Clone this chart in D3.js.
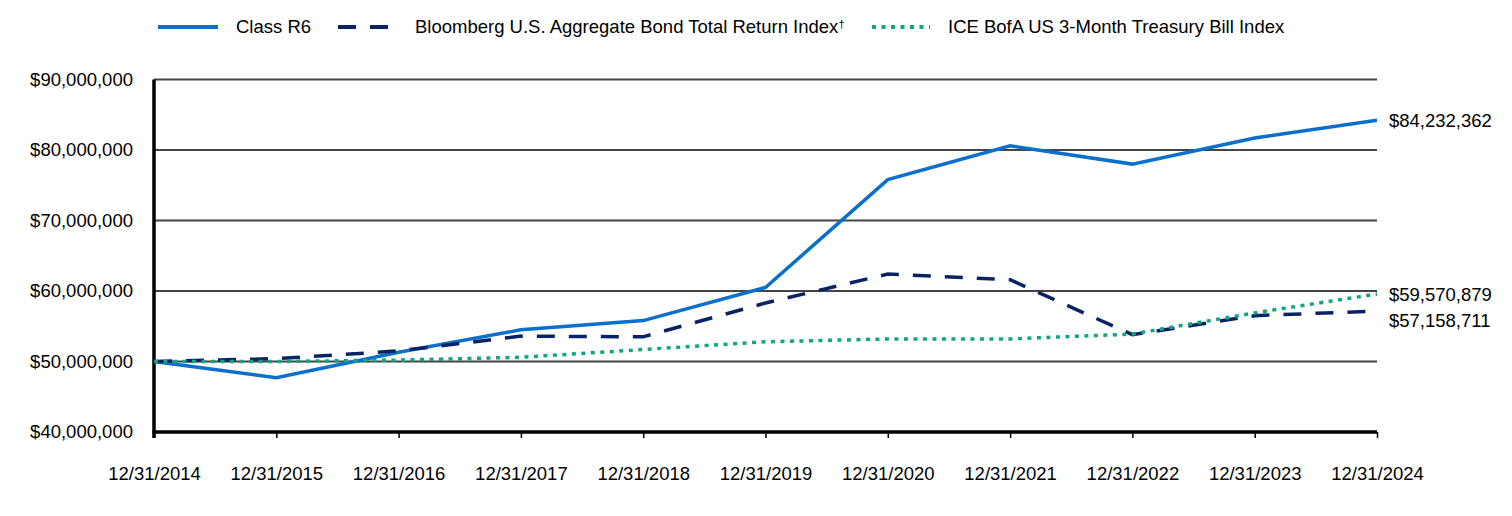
<!DOCTYPE html>
<html>
<head>
<meta charset="utf-8">
<script src="https://cdn.jsdelivr.net/npm/d3@7"></script>
<style>
  body { margin: 0; background: #fff; }
  text { font-family: "Liberation Sans", Arial, sans-serif; fill: #000; }
</style>
</head>
<body>
<div id="chart"></div>
<script>
// chart data
var years = ["12/31/2014","12/31/2015","12/31/2016","12/31/2017","12/31/2018","12/31/2019","12/31/2020","12/31/2021","12/31/2022","12/31/2023","12/31/2024"];
var classR6 = [50000000, 47700000, 51300000, 54500000, 55800000, 60500000, 75800000, 80600000, 78000000, 81700000, 84232362];
var bloomberg = [50000000, 50400000, 51500000, 53600000, 53500000, 58300000, 62400000, 61600000, 53800000, 56500000, 57158711];
var iceBofA = [50000000, 50000000, 50200000, 50600000, 51700000, 52800000, 53200000, 53200000, 53900000, 56900000, 59570879];
var yTicks = [40000000, 50000000, 60000000, 70000000, 80000000, 90000000];
var seriesNames = ["Class R6", "Bloomberg U.S. Aggregate Bond Total Return Index", "ICE BofA US 3-Month Treasury Bill Index"];

var width = 1512, height = 516;
var plotLeft = 154, plotRight = 1377, plotTop = 79.5, plotBottom = 432;
var fontSize = "18.5px";

var svg = d3.select("#chart").append("svg").attr("width", width).attr("height", height);

var x = d3.scalePoint().domain(years).range([plotLeft, plotRight]);
var y = d3.scaleLinear().domain([40000000, 90000000]).range([plotBottom, plotTop]);

var series = [
  {name: seriesNames[0], values: classR6, color: "#0b6fcc", dash: null},
  {name: seriesNames[1], values: bloomberg, color: "#0a2463", dash: "18,14"},
  {name: seriesNames[2], values: iceBofA, color: "#10a67f", dash: "4,5.5"}
];

// gridlines
svg.append("g").selectAll("line").data(yTicks.slice(1)).enter().append("line")
  .attr("x1", plotLeft).attr("x2", plotRight)
  .attr("y1", function(d) { return y(d); }).attr("y2", function(d) { return y(d); })
  .attr("stroke", "#444").attr("stroke-width", 2);

// y labels
svg.append("g").selectAll("text").data(yTicks).enter().append("text")
  .attr("x", 133).attr("y", function(d) { return y(d); }).attr("dy", "0.35em")
  .attr("text-anchor", "end").style("font-size", fontSize)
  .text(function(d) { return "$" + d3.format(",")(d); });

// x axis
var xAxis = d3.axisBottom(x).tickSize(6).tickPadding(29).tickSizeOuter(0);
var gx = svg.append("g").attr("transform", "translate(0," + plotBottom + ")").call(xAxis);
gx.select(".domain").remove();
gx.selectAll(".tick line").attr("stroke", "#000").attr("stroke-width", 1.5);
gx.selectAll(".tick text").style("font-size", fontSize).style("font-family", "Liberation Sans, Arial, sans-serif").attr("fill", "#000");

// axis lines
svg.append("line").attr("x1", plotLeft - 1.5).attr("x2", plotRight).attr("y1", plotBottom).attr("y2", plotBottom)
  .attr("stroke", "#000").attr("stroke-width", 3.5);
svg.append("line").attr("x1", plotLeft).attr("x2", plotLeft).attr("y1", plotTop).attr("y2", plotBottom + 6)
  .attr("stroke", "#000").attr("stroke-width", 3.5);

// lines
var line = d3.line().x(function(d, i) { return x(years[i]); }).y(function(d) { return y(d); });
series.forEach(function(s) {
  svg.append("path").datum(s.values)
    .attr("d", line).attr("fill", "none")
    .attr("stroke", s.color).attr("stroke-width", 3.5)
    .attr("stroke-dasharray", s.dash);
});

// end labels
var endLabels = [
  {v: classR6[10], dy: 0},
  {v: iceBofA[10], dy: 0},
  {v: bloomberg[10], dy: 9}
];
svg.append("g").selectAll("text").data(endLabels).enter().append("text")
  .attr("x", 1389).attr("y", function(d) { return y(d.v) + d.dy; }).attr("dy", "0.35em")
  .style("font-size", fontSize)
  .text(function(d) { return "$" + d3.format(",")(d.v); });

// legend
var legend = [
  {x1: 158, x2: 218, tx: 236, s: series[0], sup: false},
  {x1: 338, x2: 396, tx: 415, s: series[1], sup: true},
  {x1: 872, x2: 930, tx: 948, s: series[2], sup: false}
];
legend.forEach(function(l) {
  svg.append("line").attr("x1", l.x1).attr("x2", l.x2).attr("y1", 27).attr("y2", 27)
    .attr("stroke", l.s.color).attr("stroke-width", 4)
    .attr("stroke-dasharray", l.s.dash);
  var t = svg.append("text").attr("x", l.tx).attr("y", 27).attr("dy", "0.35em")
    .style("font-size", fontSize).text(l.s.name);
  if (l.sup) t.append("tspan").attr("dy", "-0.5em").style("font-size", "11px").text("\u2020");
});
</script>
</body>
</html>
